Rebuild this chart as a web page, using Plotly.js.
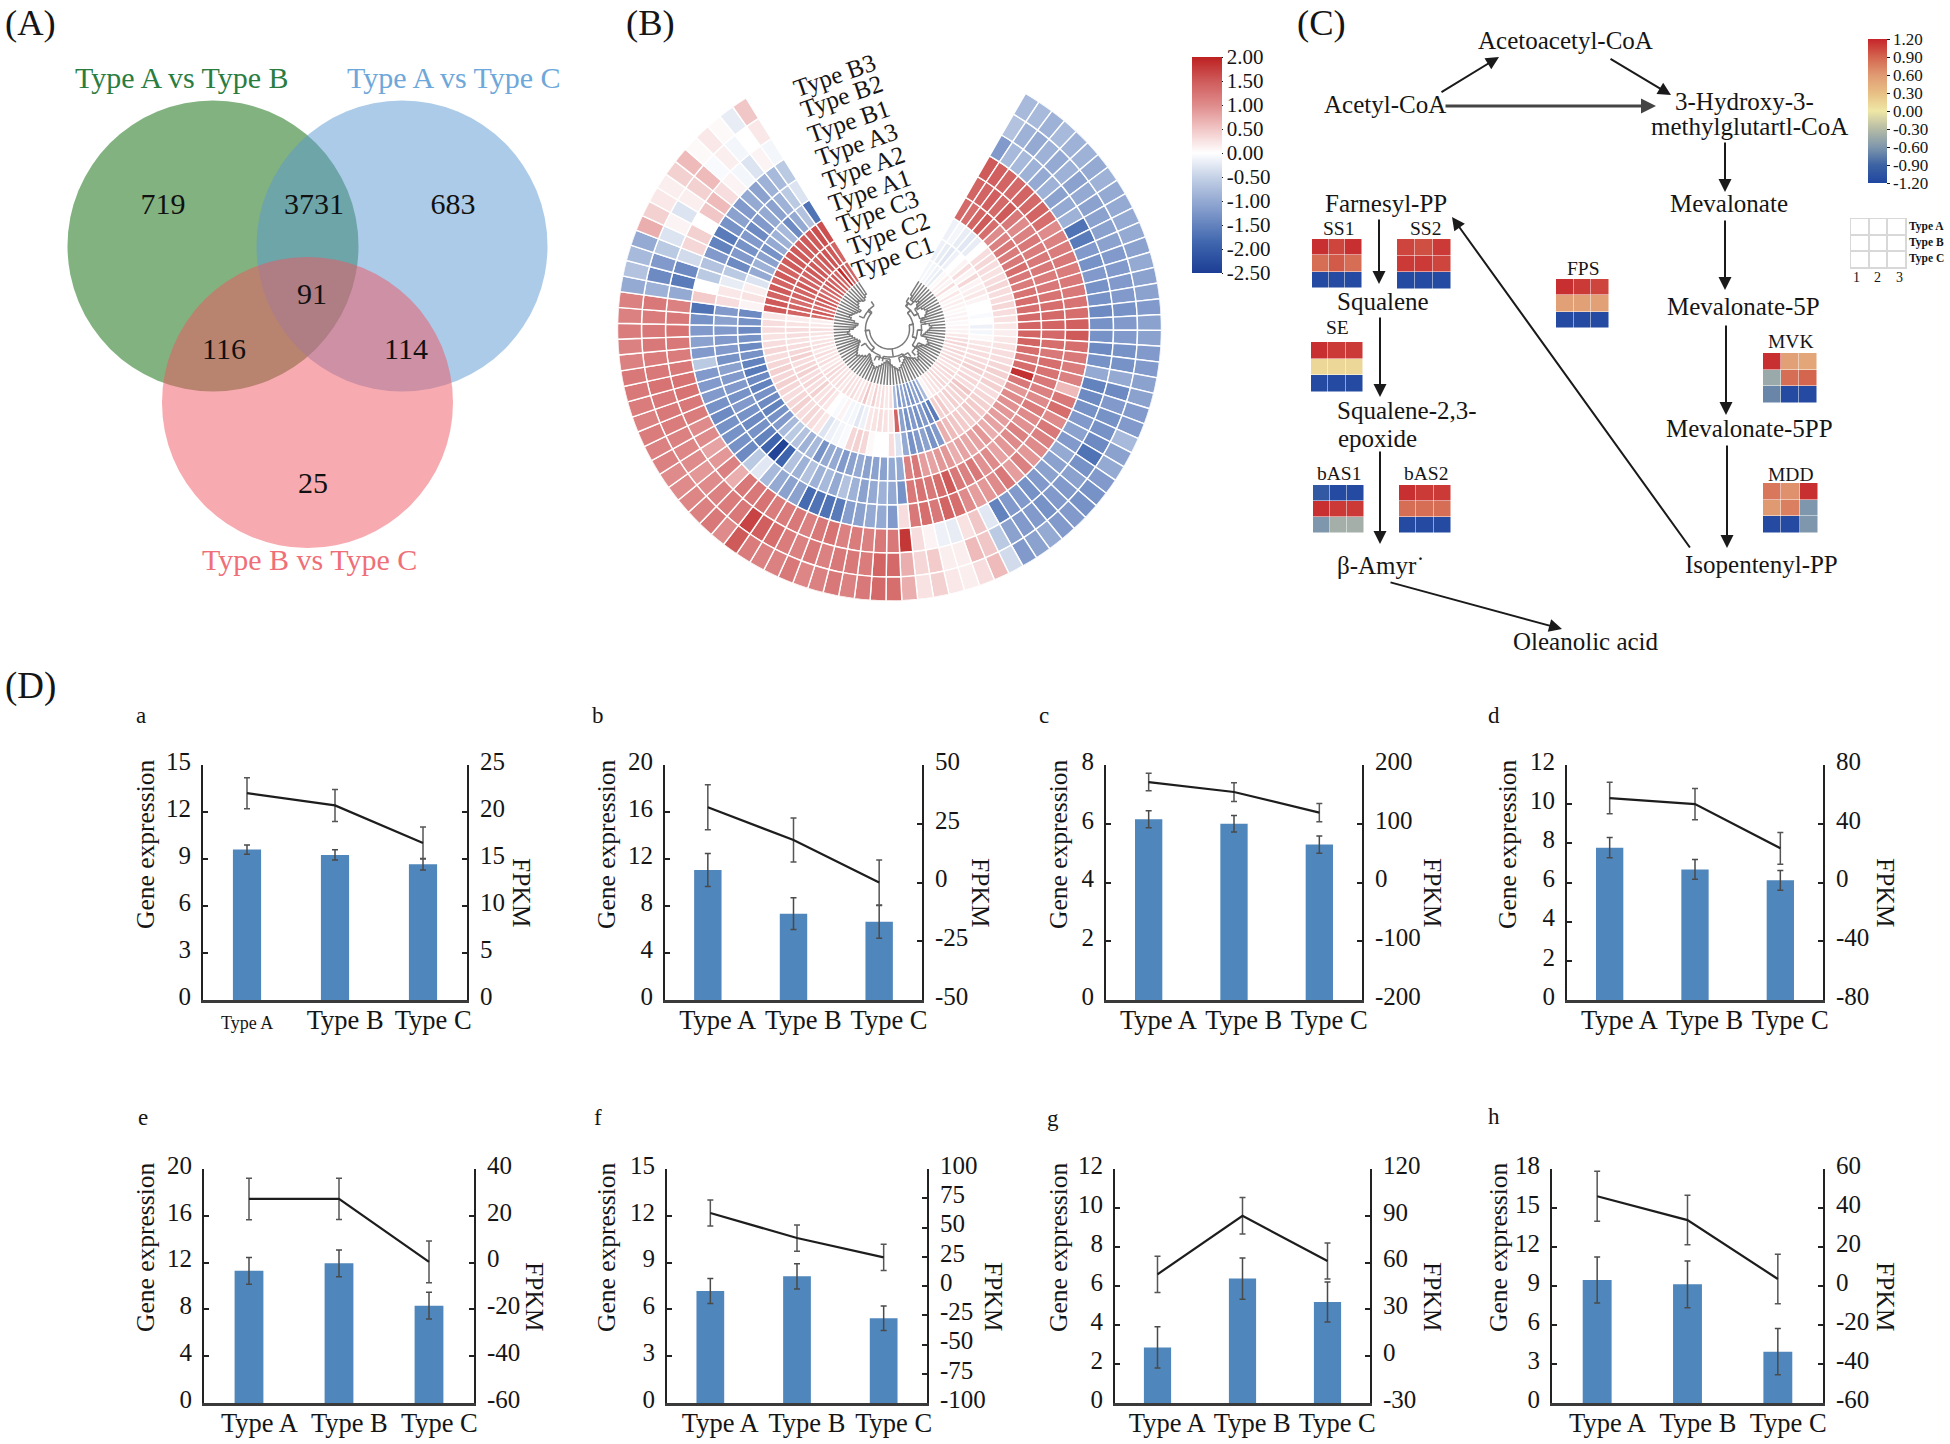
<!DOCTYPE html>
<html>
<head>
<meta charset="utf-8">
<script src="https://cdn.plot.ly/plotly-3.0.1.min.js"></script>
<style>html,body{margin:0;padding:0;background:#fff}#chart{width:1950px;height:1444px}</style>
</head>
<body>
<div id="chart"></div>
<script>
// ---------- DATA ----------
const vennLabels = ['719','3731','683','91','116','114','25'];
const vennTitles = ['Type A vs Type B','Type A vs Type C','Type B vs Type C'];

const ringNames = ['Type C1','Type C2','Type C3','Type A1','Type A2','Type A3','Type B1','Type B2','Type B3'];
const ringC1 = [-0.1,-0.1,-0.15,-0.2,0.05,0.15,0.1,0.3,0.05,0.2,0.1,0.15,0.1,0.05,0.1,0.1,0.05,0.1,0.1,0.2,0.3,0.35,0.3,0.35,0.3,0.35,0.3,0.25,0.35,0.3,0.3,0.35,0.3,0.25,0.2,0.1,
 -0.8,-1.2,-1.1,-1.3,-1.2,-1.1,-1.2,-0.8,
 0.3,0.2,0.3,0.25,0.4,0.2,0.5,0.3,0.2,0.3,0.25,0.3,0.2,0.3,0.25,0.3,0.35,0.3,0.2,0.3,0.25,0.3,0.2,0.3,0.25,0.2,0.25,0.3,0.2,0.15,
 1.3,1.5,1.3,1.4,1.5,1.4,1.3,1.4,1.5,1.4,1.5,1.4,1.9,1.5,1.4];
const ringC2 = [-0.15,-0.2,-0.25,-0.15,0.0,0.1,0.3,0.1,0.35,0.1,0.15,0.2,0.1,0.0,0.0,-0.05,0.0,-0.15,-0.1,0.05,0.2,0.25,0.3,0.3,0.35,0.4,0.3,0.35,0.3,0.5,0.4,0.35,0.4,0.3,0.45,0.4,
 -1.6,-1.4,-1.2,-1.3,-1.2,-1.3,-1.1,1.4,
 0.2,0.25,0.3,0.25,0.2,-0.15,-0.25,-0.1,-0.1,0.1,-0.05,0.0,0.2,0.3,0.25,0.4,0.3,0.35,0.3,0.4,0.35,0.3,0.4,0.35,0.3,0.25,0.3,0.3,0.25,0.15,
 1.4,1.4,1.3,1.4,1.4,1.5,1.4,1.4,1.5,1.5,1.4,1.5,1.55,1.5,1.4];
const ringC3 = [-0.15,-0.1,-0.2,-0.25,-0.2,0.0,0.3,0.35,0.3,0.25,0.3,0.35,0.3,0.3,0.35,0.3,0.25,0.2,0.15,0.2,0.25,0.3,0.3,0.35,0.4,0.35,0.4,0.3,0.35,0.4,0.45,0.5,0.4,0.45,0.5,0.6,
 0.7,-1.2,-1.3,-1.1,-1.2,-1.3,-1.0,-0.3,
 0.3,0.0,0.0,0.05,0.35,0.4,0.35,-0.05,-0.1,-0.15,-0.3,0.2,0.3,0.35,0.3,0.4,0.35,0.3,0.35,0.4,0.35,0.4,0.35,0.3,0.35,0.3,0.25,0.3,0.3,0.2,
 1.5,1.5,1.4,1.5,1.4,1.5,1.4,1.5,1.5,1.5,1.45,1.5,1.5,1.6,1.6];
const ringA1 = [1.35,1.3,1.4,1.5,1.3,1.0,1.1,1.2,1.15,1.2,1.3,1.2,1.15,1.25,1.3,1.3,1.35,1.4,1.4,1.4,1.3,1.2,1.3,1.85,1.2,0.9,1.0,0.95,0.9,0.85,0.8,0.7,0.9,0.8,0.75,0.8,0.7,0.9,0.9,0.8,0.85,1.2,1.1,
 -1.0,
 -1.0,-1.1,-1.1,-1.1,-1.0,-1.1,-1.2,-1.0,-1.0,-1.3,-0.8,-0.9,-0.7,-0.6,-0.8,-1.2,-1.3,-1.5,-1.4,-1.3,-1.5,-1.4,-1.6,-1.5,-1.3,-1.4,-1.3,-1.4,-1.3,-1.4,
 0.1,0.25,0.15,-0.3,-1.0,-0.9,-1.1,-1.3,-1.0,-0.9,-0.8,-1.4,-1.0,-0.7,-1.7];
const ringA2 = [1.4,1.4,1.45,1.35,1.5,1.2,1.0,1.1,1.2,1.15,1.2,1.2,1.15,1.2,1.25,1.3,1.35,1.4,1.35,1.3,1.2,1.3,1.25,1.2,1.1,1.0,1.15,1.0,0.95,1.1,1.0,0.9,0.8,1.0,0.95,1.2,1.1,1.2,1.5,1.3,1.2,1.25,1.2,
 -1.3,
 -1.0,-0.9,-1.0,-1.1,-0.9,-0.7,-1.0,-0.8,-0.9,-0.7,-0.9,-0.7,-1.9,-2.4,-1.9,-1.5,-1.3,-1.4,-1.3,-1.2,-1.3,-1.2,-1.2,-1.1,-1.3,-1.2,-1.2,-1.2,-1.1,-1.2,
 0.3,0.2,-0.2,-0.6,-1.4,-1.2,-1.3,-1.2,-1.4,-1.2,-1.0,-1.1,-0.9,-0.6,-0.3];
const ringA3 = [1.5,1.45,1.4,1.35,1.4,1.35,1.4,1.3,1.0,1.1,1.15,1.2,1.15,1.2,1.2,1.25,1.3,1.45,1.5,1.3,1.2,1.15,1.1,0.6,1.2,1.3,1.0,1.2,1.1,1.0,0.9,1.1,0.85,1.2,1.0,0.9,0.85,1.0,1.3,1.4,1.2,1.3,1.2,
 0.3,
 -1.2,-1.0,-1.0,-1.1,-1.15,-1.6,-1.7,-1.7,-1.8,-1.1,-1.1,-1.0,-0.8,-0.25,-0.6,
 -1.4,-1.3,-1.3,-1.3,-1.4,-1.3,-1.2,-1.2,-1.2,-0.6,-1.2,-1.1,-1.2,-1.3,-1.7,
 0.45,0.0,-0.6,-0.7,-1.2,-1.5,-1.6,-1.3,-1.1,-1.2,-1.0,-1.1,-0.9,-0.8,-0.6];
const ringB1 = [-1.2,-0.8,-0.8,-0.9,-1.0,-0.9,-1.1,-1.0,-0.9,-1.7,-1.6,-1.2,-1.3,-1.2,-1.3,-1.3,-1.4,-1.3,-1.3,-1.4,-1.3,-1.0,-1.5,-1.4,-1.3,-1.2,-1.1,-1.2,-1.0,-1.1,-1.1,-1.2,-1.3,-1.2,-1.2,-1.5,
 -0.25,0.5,0.25,-0.2,-0.15,0.1,0.3,1.8,
 1.2,1.2,1.1,1.15,1.1,1.25,1.2,1.1,1.2,1.15,1.15,1.25,1.2,1.2,0.7,1.1,0.9,0.8,1.0,1.0,1.15,1.2,1.25,1.25,1.2,1.15,1.2,1.25,1.2,1.1,
 -1.0,-1.6,-1.4,-0.4,0.35,0.4,0.0,0.5,0.6,0.3,0.1,-0.1,-0.3,0.1,-0.1];
const ringB2 = [-0.7,-0.9,-1.0,-0.9,-1.0,-0.9,-1.1,-1.0,-1.1,-1.1,-1.1,-1.1,-1.2,-1.2,-1.2,-1.2,-1.3,-1.2,-1.2,-1.3,-1.3,-1.0,-1.4,-1.2,-1.3,-1.3,-1.4,-1.7,-1.3,-1.1,-1.2,-1.2,-1.3,-1.2,-1.2,-1.1,
 -0.6,0.5,0.6,0.15,0.15,0.45,0.35,0.7,
 1.35,1.4,1.15,1.2,1.2,1.1,1.2,1.1,1.15,1.3,1.45,1.7,1.2,1.15,1.1,1.0,0.9,1.0,1.05,1.1,1.15,1.2,1.2,1.25,1.2,1.15,1.2,1.2,1.15,1.2,
 -0.9,-1.4,-1.2,-0.6,-0.3,0.1,-0.3,0.15,0.4,0.6,-0.05,0.15,-0.1,0.0,0.2];
const ringB3 = [-0.8,-0.8,-0.9,-0.8,-0.9,-0.9,-1.0,-0.9,-1.0,-1.0,-1.0,-1.0,-1.1,-1.0,-1.1,-1.1,-1.2,-1.1,-1.1,-1.2,-1.2,-1.1,-1.1,-1.2,-1.2,-0.8,-1.1,-1.0,-1.2,-1.3,-1.3,-1.2,-1.2,-1.0,-1.1,-1.2,
 -0.4,0.6,0.3,0.15,0.2,0.4,0.25,0.7,
 1.3,1.35,1.2,1.1,1.2,1.1,1.05,1.2,1.1,1.1,1.15,1.5,1.0,1.2,1.1,1.05,1.0,1.0,1.1,1.1,1.15,1.1,1.15,1.2,1.2,1.1,1.1,1.15,1.1,1.1,
 -1.0,-0.7,-0.8,-1.0,0.7,0.4,0.2,0.15,0.4,0.6,0.05,0.2,0.05,-0.2,0.5];
const rings = [ringC1,ringC2,ringC3,ringA1,ringA2,ringA3,ringB1,ringB2,ringB3];
const ringBarTicks = [2,1.5,1,0.5,0,-0.5,-1,-1.5,-2,-2.5];

const treeLeafStart = [40,36,36,38,40,36,34,38,40,42,40,38,34,32,36,40,42,40,38,36,34,38,40,42,40,36,34,32,36,38,40,42,38,36,34,32,34,36,38,40,42,40,38,36,34,32,34,36,38,40,42,40,38,36,34,32,36,38,40,42,40,38,36,34,32,34,36,38,40,42,40,36,34,32,36,40,42,40,38,36,34,38,40,42,40,38,40,42,44];
const treeFrom   = [14, 5,56,36, 1,18,33,44,50,78, 0, 6,15,25];
const treeTo     = [70,23,84,48, 9,28,39,52,62,88, 3,12,21,31];
const treeRadius = [20,24,24,28,28,28,30,30,28,28,32,32,32,32];
const treeParent = [ 0,20,20,20,24,24,28,28,24,24,28,28,28,28];

const pathwayEnzymes = ['SS1','SS2','SE','bAS1','bAS2','FPS','MVK','MDD'];
const heatSS1  = [[1.15,1.05,1.15],[0.85,0.95,0.85],[-1.15,-1.15,-1.15]];
const heatSS2  = [[1.05,1.0,1.1],[1.1,1.1,1.05],[-1.15,-1.15,-1.15]];
const heatSE   = [[1.15,1.1,1.1],[0.12,0.12,0.12],[-1.15,-1.15,-1.15]];
const heatBAS1 = [[-1.0,-1.15,-1.15],[1.15,1.1,1.1],[-0.6,-0.4,-0.4]];
const heatBAS2 = [[1.15,1.1,1.1],[0.85,0.85,0.85],[-1.15,-1.15,-1.15]];
const heatFPS  = [[1.15,1.1,1.05],[0.55,0.55,0.55],[-1.15,-1.15,-1.15]];
const heatMVK  = [[1.15,0.55,0.5],[-0.45,0.85,0.9],[-0.7,-1.15,-1.15]];
const heatMDD  = [[0.8,0.65,1.15],[0.6,0.75,-0.6],[-1.15,-1.15,-0.6]];
const pathwayBarTicks = [1.2,0.9,0.6,0.3,0,-0.3,-0.6,-0.9,-1.2];
const gridRows = ['Type A','Type B','Type C'];
const gridCols = ['1','2','3'];

const panelNames = ['a','b','c','d','e','f','g','h'];
const categories = ['Type A','Type B','Type C'];
const barValues  = [[9.6,9.26,8.66],[11.06,7.35,6.65],[6.15,6.0,5.29],[7.78,6.67,6.11],[11.3,11.94,8.32],[7.18,8.12,5.43],[2.85,6.38,5.18],[9.46,9.13,3.95]];
const barErrors  = [[0.3,0.33,0.37],[1.4,1.35,1.4],[0.29,0.28,0.29],[0.52,0.51,0.5],[1.14,1.14,1.15],[0.8,0.81,0.79],[1.06,1.06,1.03],[1.77,1.8,1.78]];
const lineValues = [[22,20.7,16.7],[32,18.1,0],[171,154,119],[57.5,53.4,23.3],[27.2,27.2,0.3],[62.4,41,24.5],[52.5,90,61],[46,33.8,3.6]];
const lineErrors = [[1.65,1.7,1.7],[9.6,9.4,9.6],[15,16,15.6],[10.7,10.6,10.8],[8.9,8.8,8.9],[11.1,11.2,11.2],[11.6,11.7,11.5],[12.8,12.7,12.7]];
const leftTicks  = [[0,3,6,9,12,15],[0,4,8,12,16,20],[0,2,4,6,8],[0,2,4,6,8,10,12],[0,4,8,12,16,20],[0,3,6,9,12,15],[0,2,4,6,8,10,12],[0,3,6,9,12,15,18]];
const rightTicks = [[0,5,10,15,20,25],[-50,-25,0,25,50],[-200,-100,0,100,200],[-80,-40,0,40,80],[-60,-40,-20,0,20,40],[-100,-75,-50,-25,0,25,50,75,100],[-30,0,30,60,90,120],[-60,-40,-20,0,20,40,60]];

// ---------- PAGE ----------
const serif = 'Liberation Serif';
const W = 1950, H = 1444, ink = '#151515';
const traces = [], annotations = [], shapes = [];
const layout = {
  width:W, height:H, margin:{l:0,r:0,t:0,b:0}, showlegend:false,
  paper_bgcolor:'#fff', plot_bgcolor:'rgba(0,0,0,0)',
  font:{family:serif,color:ink},
  xaxis:{domain:[0,1],range:[0,W],visible:false,fixedrange:true,showgrid:false,zeroline:false},
  yaxis:{domain:[0,1],range:[H,0],visible:false,fixedrange:true,showgrid:false,zeroline:false},
  annotations, shapes
};
const xDom = (a,b)=>[a/W,b/W];
const yDom = (t,b)=>[1-b/H,1-t/H];
let axisNo = 2;
function label(text,x,y,size,opt){
  annotations.push(Object.assign({text,x,y,xref:'x',yref:'y',showarrow:false,xanchor:'center',yanchor:'middle',
    font:{family:serif,size,color:(opt&&opt.color)||ink}},opt&&opt.extra));
}
function arrow(x0,y0,x1,y1,w,c){
  annotations.push({text:'',x:x1,y:y1,ax:x0,ay:y0,xref:'x',yref:'y',axref:'x',ayref:'y',showarrow:true,
    arrowhead:2,arrowsize:w>2?1:1.3,arrowwidth:w||2,arrowcolor:c||'#1a1a1a',standoff:0,startstandoff:0});
}
label('(A)',30,22,36.5); label('(B)',650,22,36.5); label('(C)',1321,22,36.5); label('(D)',30,686,37);

// ---------- A: VENN ----------
[[213,246,'#056500'],[402,246,'#5997d1'],[307.5,402.5,'#ef555f']].forEach(c=>{
  shapes.push({type:'circle',xref:'x',yref:'y',x0:c[0]-145.5,x1:c[0]+145.5,y0:c[1]-145.5,y1:c[1]+145.5,
    fillcolor:c[2],opacity:0.5,line:{width:0},layer:'below'});
});
traces.push({type:'scatter',mode:'text',xaxis:'x',yaxis:'y',hoverinfo:'skip',
  x:[163,314,453,312,224,406,313],y:[206.5,206.5,206.5,296.5,351.5,351.5,485.5],text:vennLabels,
  textposition:'middle center',textfont:{family:serif,size:30,color:'#111'}});
label(vennTitles[0],182,77,30,{color:'#2a7d3f'});
label(vennTitles[1],454,77,30,{color:'#6ea7da'});
label(vennTitles[2],309,559,30,{color:'#ef6f78'});

// ---------- B: CIRCULAR HEATMAP ----------
const ringCx=889.5, ringCy=329, ringR=272, ringHole=56, ringW=24, sectorW=3.35, sectorStart=60;
const sectorAngle = i => sectorStart-(i+0.5)*sectorW;
layout.polar = {
  domain:{x:xDom(ringCx-ringR,ringCx+ringR),y:yDom(ringCy-ringR,ringCy+ringR)},
  bgcolor:'rgba(0,0,0,0)', barmode:'overlay', bargap:0,
  radialaxis:{visible:false,range:[0,ringR]},
  angularaxis:{visible:false,thetaunit:'degrees'}
};
layout.coloraxis = {
  cmin:-2.5,cmax:2,
  colorscale:[[0,'#1c3d94'],[0.14,'#3f66ae'],[0.28,'#7d97c9'],[0.44,'#c3d0e6'],[0.5556,'#ffffff'],[0.67,'#f1c4c4'],[0.78,'#df8a8a'],[0.89,'#cf5a5a'],[1,'#bd2020']],
  colorbar:{x:1192/W,xanchor:'left',y:1-57/H,yanchor:'top',lenmode:'pixels',len:216,thicknessmode:'pixels',thickness:30,
    xpad:0,ypad:0,outlinewidth:0,ticks:'outside',ticklen:1,tickcolor:ink,tickvals:ringBarTicks,
    ticktext:ringBarTicks.map(v=>v.toFixed(2)),tickfont:{family:serif,size:21,color:ink}}
};
rings.forEach((vals,k)=>{
  traces.push({type:'barpolar',name:ringNames[k],hoverinfo:'skip',
    theta:vals.map((v,i)=>sectorAngle(i)),r:vals.map(()=>ringW),base:ringHole+k*ringW,width:sectorW,
    marker:{color:vals,coloraxis:'coloraxis',line:{color:'#fff',width:1.4}}});
});
// dendrogram
const tTheta=[],tR=[];
treeLeafStart.forEach((r0,i)=>{
  tTheta.push(sectorAngle(i),sectorAngle(i),null); tR.push(r0,ringHole,null);
  if(i<treeLeafStart.length-1){tTheta.push(sectorAngle(i),sectorAngle(i+1),sectorAngle(i+1),null);tR.push(r0,r0,treeLeafStart[i+1],null);}
});
treeFrom.forEach((a,n)=>{
  const b=treeTo[n],r=treeRadius[n];
  for(let s=a;s<=b;s++){tTheta.push(sectorAngle(s));tR.push(r);}
  tTheta.push(null);tR.push(null);
  if(treeParent[n]>0){const m=sectorAngle((a+b)/2);tTheta.push(m,m,null);tR.push(treeParent[n],r,null);}
  [a,b].forEach(e=>{tTheta.push(sectorAngle(e),sectorAngle(e),null);tR.push(r,r+5,null);});
});
traces.push({type:'scatterpolar',mode:'lines',hoverinfo:'skip',theta:tTheta,r:tR,connectgaps:false,line:{color:'#7a7a7a',width:1.5}});
[[892,257],[888,233],[877,211],[869,190],[863,167],[856,144],[848,121],[841,96],[834,75]].forEach((p,k)=>{
  label(ringNames[k],p[0],p[1],25,{extra:{textangle:-19}});
});

// ---------- C: PATHWAY ----------
layout.coloraxis2 = {
  cmin:-1.2,cmax:1.2,
  colorscale:[[0,'#1f46a0'],[0.125,'#3d63a3'],[0.25,'#7f97ac'],[0.375,'#b5bba6'],[0.5,'#efe7a6'],[0.625,'#e8bf85'],[0.75,'#e09a72'],[0.875,'#d4654f'],[1,'#c6242a']],
  colorbar:{x:1868/W,xanchor:'left',y:1-39/H,yanchor:'top',lenmode:'pixels',len:144,thicknessmode:'pixels',thickness:19,
    xpad:0,ypad:0,outlinewidth:0,ticks:'outside',ticklen:3,tickcolor:ink,tickvals:pathwayBarTicks,
    ticktext:pathwayBarTicks.map(v=>v.toFixed(2)),tickfont:{family:serif,size:17,color:ink}}
};
function heatBox(z,x0,x1,y0,y1){
  const n=axisNo++;
  layout['xaxis'+n]={domain:xDom(x0,x1),anchor:'y'+n,visible:false,fixedrange:true};
  layout['yaxis'+n]={domain:yDom(y0,y1),anchor:'x'+n,visible:false,fixedrange:true,autorange:'reversed'};
  traces.push({type:'heatmap',z,xaxis:'x'+n,yaxis:'y'+n,coloraxis:'coloraxis2',xgap:0.5,ygap:0.5,hoverinfo:'skip'});
}
heatBox(heatSS1,1312,1362,239,288);
heatBox(heatSS2,1397,1451,239,289);
heatBox(heatSE,1311,1363,342,392);
heatBox(heatBAS1,1313,1364,485,533);
heatBox(heatBAS2,1399,1451,485,533);
heatBox(heatFPS,1556,1609,279,328);
heatBox(heatMVK,1763,1817,353,403);
heatBox(heatMDD,1763,1818,483,533);
[[1338,228],[1425,228],[1337,327],[1339,473],[1426,473],[1583,268],[1791,341],[1791,474]].forEach((p,k)=>label(pathwayEnzymes[k],p[0],p[1],19.5));
// key grid
{
  const n=axisNo++, gridAxis={range:[0,3],tickvals:[0,1,2,3],showticklabels:false,ticks:'',showgrid:true,gridcolor:'#d8d8d8',gridwidth:1.5,
    showline:true,mirror:true,linecolor:'#d8d8d8',linewidth:1.5,zeroline:false,fixedrange:true};
  layout['xaxis'+n]=Object.assign({},gridAxis,{domain:xDom(1851,1905),anchor:'y'+n});
  layout['yaxis'+n]=Object.assign({},gridAxis,{domain:yDom(219,267),anchor:'x'+n});
  traces.push({type:'scatter',mode:'none',x:[0.5,1.5,2.5],y:[0.5,1.5,2.5],xaxis:'x'+n,yaxis:'y'+n,hoverinfo:'skip'});
  gridRows.forEach((t,k)=>annotations.push({text:'<b>'+t+'</b>',x:1907,y:226+k*16,xref:'x',yref:'y',showarrow:false,xanchor:'left',yanchor:'middle',font:{family:serif,size:11.5,color:ink}}));
  gridCols.forEach((t,k)=>label(t,1856+k*21.5,277,14));
}
[['Acetoacetyl-CoA',1565,40],['Acetyl-CoA',1385,104],['3-Hydroxy-3-',1744,101],['methylglutartl-CoA',1749,126],['Mevalonate',1729,203],
 ['Mevalonate-5P',1743,306],['Mevalonate-5PP',1749,428],['Isopentenyl-PP',1761,564],['Oleanolic acid',1586,641],['Farnesyl-PP',1386,203],
 ['Squalene',1383,301],['Squalene-2,3-',1407,410],['epoxide',1377,438],['β-Amyr\u02D9',1381,565]
].forEach(t=>label(t[0],t[1],t[2],25));
arrow(1440,93,1499,57); arrow(1609,58,1671,95); arrow(1444,106,1656,106,3,'#444');
arrow(1725,141,1725,192); arrow(1725,219,1725,290); arrow(1726,324,1726,415); arrow(1727,444,1727,548);
arrow(1691,549,1452,217); arrow(1379,218,1379,284); arrow(1380,316,1380,397); arrow(1380,450,1380,544); arrow(1389,582,1562,629);

// ---------- D: BAR + LINE PANELS ----------
const panelBox = [[203,467,765,1000],[665,922,765,1000],[1106,1362,765,1000],[1567,1823,765,1000],
                  [204,474,1169,1403],[667,927,1169,1403],[1115,1370,1169,1403],[1552,1823,1169,1403]];
const panelLetterPos = [[141,715],[598,715],[1044,715],[1494,715],[143,1117],[598,1117],[1053,1118],[1494,1116]];
const fpkmPos = [[522,892],[981,892],[1433,892],[1886,892],[535,1296],[994,1296],[1433,1296],[1886,1296]];
const genePos = [[145,845],[606,845],[1058,845],[1507,845],[145,1248],[606,1248],[1058,1248],[1498,1248]];
const labelShift = 0.115;
panelNames.forEach((name,p)=>{
  const [x0,x1,y0,y1]=panelBox[p];
  const n=axisNo++, m=axisNo++;
  const ids=[0,1,2];
  const lt=leftTicks[p], rt=rightTicks[p];
  layout['xaxis'+n]={domain:xDom(x0,x1),anchor:'y'+n,range:[-0.5,2.5],fixedrange:true,showgrid:false,zeroline:false,
    tickmode:'array',tickvals:ids.map(i=>(p===0&&i===0)?i:i+labelShift),
    ticktext:categories.map((c,i)=>(p===0&&i===0)?'<span style="font-size:18px">'+c+'</span>':c),
    ticks:'',showline:true,linecolor:'#3a3a3a',linewidth:3,tickfont:{family:serif,size:26.5,color:ink},ticklabelstandoff:-6};
  layout['yaxis'+n]={domain:yDom(y0,y1),anchor:'x'+n,range:[lt[0],lt[lt.length-1]],fixedrange:true,showgrid:false,zeroline:false,
    tickmode:'array',tickvals:lt,ticktext:lt.map(String),ticks:'inside',ticklen:5,tickwidth:2,tickcolor:'#222',
    showline:true,linecolor:'#222',linewidth:2,tickfont:{family:serif,size:25,color:ink},ticklabelstandoff:5,ticklabelshift:-4};
  layout['yaxis'+m]={domain:yDom(y0,y1),anchor:'x'+n,overlaying:'y'+n,side:'right',range:[rt[0],rt[rt.length-1]],fixedrange:true,showgrid:false,zeroline:false,
    tickmode:'array',tickvals:rt,ticktext:rt.map(String),ticks:'inside',ticklen:5,tickwidth:2,tickcolor:'#222',
    showline:true,linecolor:'#222',linewidth:2,tickfont:{family:serif,size:25,color:ink},ticklabelstandoff:6,ticklabelshift:-4};
  traces.push({type:'bar',x:ids,y:barValues[p],width:0.32,xaxis:'x'+n,yaxis:'y'+n,hoverinfo:'skip',
    marker:{color:'#4f86bb',line:{width:0}},
    error_y:{type:'data',array:barErrors[p],visible:true,color:'#4a4a4a',thickness:1.5,width:3}});
  traces.push({type:'scatter',mode:'lines',x:ids,y:lineValues[p],xaxis:'x'+n,yaxis:'y'+m,hoverinfo:'skip',
    line:{color:'#1d1d1d',width:2.2},
    error_y:{type:'data',array:lineErrors[p],visible:true,color:'#555',thickness:1.5,width:3}});
  label(name,panelLetterPos[p][0],panelLetterPos[p][1],23);
  label('Gene expression',genePos[p][0],genePos[p][1],25.5,{extra:{textangle:-90}});
  label('FPKM',fpkmPos[p][0],fpkmPos[p][1],25.5,{extra:{textangle:90}});
});

Plotly.newPlot('chart',traces,layout,{displayModeBar:false,staticPlot:true});
</script>
</body>
</html>
